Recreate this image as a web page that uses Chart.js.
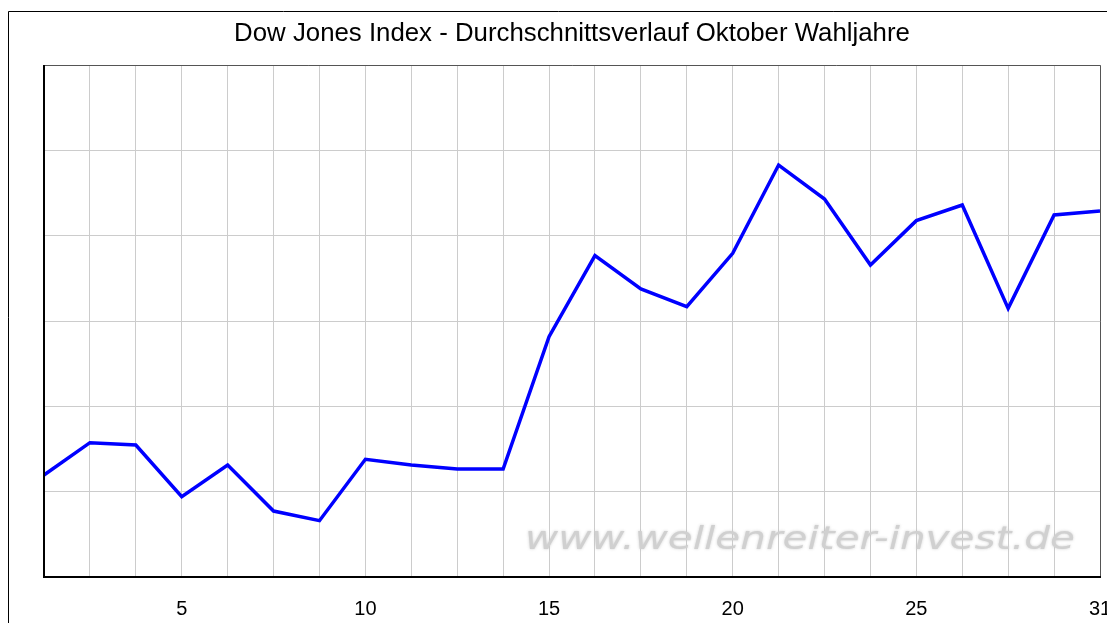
<!DOCTYPE html>
<html>
<head>
<meta charset="utf-8">
<script src="https://cdn.jsdelivr.net/npm/chart.js@4.4.1/dist/chart.umd.min.js"></script>
<style>
    html, body { margin: 0; padding: 0; background: #ffffff; }
    #wrap { width: 1107px; height: 623px; position: relative; }
</style>
</head>
<body>
<div id="wrap"><canvas id="dowChart" width="1107" height="623"></canvas></div>
<script>
// ==========================
// Data
// ==========================
const titel = 'Dow Jones Index - Durchschnittsverlauf Oktober Wahljahre';
const tage = ['', '', '', '5', '', '', '', '10', '', '', '', '15', '', '', '', '20', '', '', '', '25', '', '', '', '31'];
const verlauf = [1.195, 1.574, 1.547, 0.941, 1.313, 0.773, 0.660, 1.379, 1.313, 1.266, 1.266, 2.816,
                 3.766, 3.375, 3.168, 3.793, 4.828, 4.430, 3.656, 4.176, 4.359, 3.148, 4.242, 4.289];
const yMin = 0, yMax = 6, yStep = 1;
const watermark = 'www.wellenreiter-invest.de';

const FONT = "'Liberation Sans', Arial, sans-serif";

// ==========================
// Frame, title, watermark
// ==========================
const decorPlugin = {
    id: 'decor',
    beforeDraw(chart) {
        const ctx = chart.ctx;
        ctx.save();
        ctx.fillStyle = '#ffffff';
        ctx.fillRect(0, 0, chart.width, chart.height);
        // outer frame (cut off at right/bottom)
        ctx.strokeStyle = '#000000';
        ctx.lineWidth = 1;
        ctx.beginPath();
        ctx.moveTo(8.5, chart.height + 2);
        ctx.lineTo(8.5, 11.5);
        ctx.lineTo(chart.width + 2, 11.5);
        ctx.stroke();
        // title over the plot area
        const a = chart.chartArea;
        ctx.fillStyle = '#000000';
        ctx.font = '25.8px ' + FONT;
        ctx.textAlign = 'center';
        ctx.textBaseline = 'middle';
        ctx.fillText(titel, (a.left + a.right) / 2, 34);
        ctx.restore();
    },
    beforeDatasetsDraw(chart) {
        const ctx = chart.ctx;
        const a = chart.chartArea;
        ctx.save();
        ctx.font = "oblique 32px 'DejaVu Sans', Verdana, sans-serif";
        ctx.textAlign = 'left';
        ctx.textBaseline = 'alphabetic';
        const w = ctx.measureText(watermark).width;
        const sx = 550 / w;
        ctx.translate(a.left + 481, 549);
        ctx.scale(sx, 1);
        ctx.shadowColor = 'rgba(190,190,190,0.7)';
        ctx.shadowBlur = 3;
        ctx.fillStyle = '#d0d0d0';
        ctx.fillText(watermark, 0, 0);
        ctx.restore();
    },
    afterDatasetsDraw(chart) {
        const ctx = chart.ctx;
        const a = chart.chartArea;
        ctx.save();
        // top and right border of the plot
        ctx.strokeStyle = '#555555';
        ctx.lineWidth = 1;
        ctx.beginPath();
        ctx.moveTo(a.left, a.top + 0.5);
        ctx.lineTo(a.right + 0.5, a.top + 0.5);
        ctx.lineTo(a.right + 0.5, a.bottom);
        ctx.stroke();
        // left and bottom border
        ctx.strokeStyle = '#000000';
        ctx.lineWidth = 2;
        ctx.beginPath();
        ctx.moveTo(a.left, a.top);
        ctx.lineTo(a.left, a.bottom);
        ctx.lineTo(a.right + 1, a.bottom);
        ctx.stroke();
        ctx.restore();
    }
};

// ==========================
// Chart
// ==========================
const ctx = document.getElementById('dowChart').getContext('2d');
new Chart(ctx, {
    type: 'line',
    data: {
        labels: tage,
        datasets: [{
            data: verlauf,
            borderColor: '#0000ff',
            borderWidth: 3.5,
            pointRadius: 0,
            tension: 0,
            fill: false
        }]
    },
    options: {
        responsive: false,
        animation: false,
        layout: { padding: { left: 44, right: 7, top: 65, bottom: 0 } },
        plugins: {
            legend: { display: false },
            title: { display: false },
            tooltip: { enabled: false }
        },
        scales: {
            x: {
                grid: { color: '#cccccc', lineWidth: 1, drawTicks: false },
                border: { display: false },
                ticks: {
                    autoSkip: false,
                    maxRotation: 0,
                    padding: 20,
                    color: '#000000',
                    font: { family: FONT, size: 20 }
                },
                afterFit(scale) {
                    scale.height = 46;
                    scale.paddingLeft = 0;
                    scale.paddingRight = 0;
                }
            },
            y: {
                min: yMin,
                max: yMax,
                grid: { color: '#cccccc', lineWidth: 1, drawTicks: false },
                border: { display: false },
                ticks: { display: false, stepSize: yStep },
                afterFit(scale) { scale.width = 0; }
            }
        }
    },
    plugins: [decorPlugin]
});
</script>
</body>
</html>
